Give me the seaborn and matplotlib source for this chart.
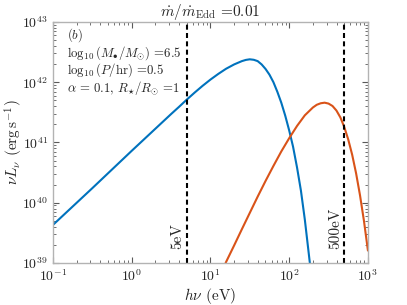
import numpy as np
import pandas as pd
import seaborn as sns
from matplotlib import pyplot as plt

# photon energy (eV) and log10 of nu L_nu (erg/s)
disc_ev = [0.1, 0.316, 1, 3.16, 3.98, 5.01, 6.31, 7.94, 10, 12.6, 15.8, 20, 25.1,
           28.2, 31.6, 35.5, 39.8, 44.7, 50.1, 56.2, 63.1, 70.8, 79.4, 89.1, 100,
           112, 126, 141, 158, 183]
disc_loglum = [39.63, 40.24, 40.86, 41.47, 41.589, 41.711, 41.828, 41.939, 42.043,
               42.138, 42.223, 42.295, 42.35, 42.37, 42.38, 42.372, 42.35, 42.295,
               42.22, 42.125, 42.00, 41.84, 41.66, 41.445, 41.20, 40.93, 40.58,
               40.20, 39.72, 39.0]
hot_ev = [15.6, 20, 25.1, 31.6, 39.8, 50.1, 63.1, 79.4, 100, 126, 158, 200, 224, 251,
          282, 316, 355, 398, 447, 501, 562, 631, 708, 794, 891, 1000]
hot_loglum = [39.0, 39.29, 39.56, 39.83, 40.10, 40.36, 40.61, 40.85, 41.07, 41.275,
              41.45, 41.58, 41.625, 41.65, 41.66, 41.645, 41.605, 41.53, 41.415,
              41.255, 41.05, 40.795, 40.485, 40.12, 39.695, 39.205]
band_ev = [5, 500]
band_labels = ['5eV', '500eV']

sns.set_style('ticks')
plt.rcParams['font.family'] = ['cmr10', 'DejaVu Serif']
plt.rcParams['mathtext.fontset'] = 'cm'
plt.rcParams['axes.formatter.use_mathtext'] = True
plt.rcParams['axes.unicode_minus'] = False

disc = pd.DataFrame({'ev': disc_ev, 'lum': 10.0 ** np.array(disc_loglum)})
hot = pd.DataFrame({'ev': hot_ev, 'lum': 10.0 ** np.array(hot_loglum)})

fig = plt.figure(figsize=(4.07, 3.05), dpi=100)
ax = fig.add_axes([0.130, 0.138, 0.774, 0.790])
ax.set_xscale('log')
ax.set_yscale('log')
sns.lineplot(data=disc, x='ev', y='lum', color='#0072BD', lw=1.5, ax=ax)
sns.lineplot(data=hot, x='ev', y='lum', color='#D95319', lw=1.5, ax=ax)

for e, lab in zip(band_ev, band_labels):
    ax.axvline(e, color='k', lw=1.5, ls=(0, (2.4, 1.6)))
    ax.text(e / 1.07, 1.7e39, lab, rotation=90, ha='right', va='bottom', fontsize=11)

ax.set_xlim(0.1, 1000)
ax.set_ylim(1e39, 1e43)
ax.set_xlabel(r'$h\nu$ (eV)', fontsize=11, labelpad=2)
ax.set_ylabel(r'$\nu L_\nu$ (erg$\,$s$^{-1}$)', fontsize=11)
ax.yaxis.set_label_coords(-0.09, 0.5)
ax.set_title(r'$\dot{m}/\dot{m}_{\rm Edd}$ =0.01', fontsize=11, pad=3)

lines = [r'$(b)$', r'$\log_{10}(M_{\bullet}/M_{\odot})$ =6.5',
         r'$\log_{10}(P/{\rm hr})$ =0.5', r'$\alpha$ = 0.1, $R_{\star}/R_{\odot}$ =1']
for i, t in enumerate(lines):
    ax.text(0.046, 0.93 - i * 0.073, t, transform=ax.transAxes, fontsize=9.2, va='baseline')

for s in ax.spines.values():
    s.set_color('0.7')
    s.set_linewidth(1.0)
ax.tick_params(which='both', direction='in', top=True, right=True, colors='0.35',
               labelcolor='0.15', labelsize=10)
ax.tick_params(which='major', length=4, width=0.8)
ax.tick_params(which='minor', length=2, width=0.6)

plt.savefig('out.png', dpi=100)
